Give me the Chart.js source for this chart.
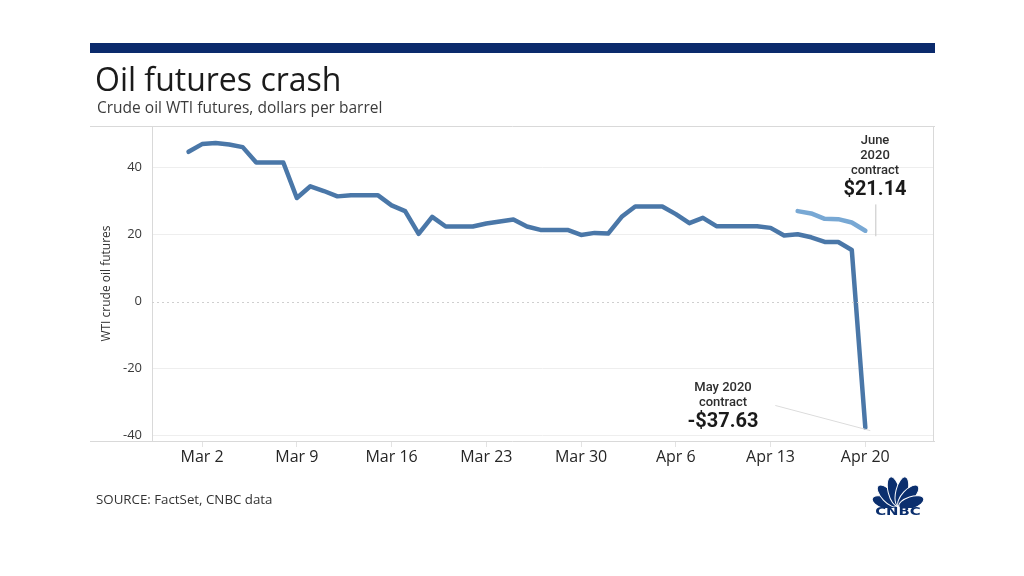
<!DOCTYPE html>
<html>
<head>
<meta charset="utf-8">
<script src="https://cdn.jsdelivr.net/npm/chart.js@4"></script>
<style>
  body { margin: 0; width: 1024px; height: 576px; position: relative; background: #fff; font-family: "Open Sans", Roboto, sans-serif; overflow: hidden; }
  .abs { position: absolute; white-space: nowrap; }
  #bar { left: 90px; top: 43px; width: 845px; height: 10px; background: #0b2a6c; }
  #title { left: 95px; top: 57px; font-size: 32px; color: #1b1b1b; }
  #subtitle { left: 97px; top: 96px; font-size: 15.5px; color: #3c3c3c; }
  #source { left: 96px; top: 490px; font-size: 13.3px; color: #333; }
  .note { text-align: center; color: #2e2e2e; font-family: Roboto, sans-serif; font-weight: 500; font-size: 13px; line-height: 15px; }
  .note b { display: block; font-size: 20px; line-height: 22px; font-weight: 700; color: #1a1a1a; }
  #june { left: 835px; top: 132px; width: 80px; }
  #may { left: 673px; top: 379px; width: 100px; }
  #logo { left: 868px; top: 476px; width: 60px; }
  #logoText { left: 868px; top: 505px; width: 60px; text-align: center; font-family: "DejaVu Sans", sans-serif; font-size: 11px; font-weight: 700; color: #0b2f6e; transform: scaleX(1.35); }
  canvas { position: absolute; left: 0; top: 0; }
</style>
</head>
<body>
<canvas id="oilChart" width="1024" height="576"></canvas>
<div class="abs" id="bar"></div>
<div class="abs" id="title">Oil futures crash</div>
<div class="abs" id="subtitle">Crude oil WTI futures, dollars per barrel</div>
<div class="abs note" id="june">June<br>2020<br>contract<b>$21.14</b></div>
<div class="abs note" id="may">May 2020<br>contract<b>-$37.63</b></div>
<div class="abs" id="source">SOURCE: FactSet, CNBC data</div>
<svg class="abs" id="logo" width="60" height="32" viewBox="0 0 60 32">
  <g fill="#0b2f6e" stroke="#fff" stroke-width="1" transform="translate(30,31)">
    <ellipse cx="0" cy="-14" rx="6" ry="13" transform="rotate(-72)"/>
    <ellipse cx="0" cy="-15" rx="6" ry="14" transform="rotate(-43)"/>
    <ellipse cx="0" cy="-16" rx="6" ry="15" transform="rotate(-14)"/>
    <ellipse cx="0" cy="-16" rx="6" ry="15" transform="rotate(14)"/>
    <ellipse cx="0" cy="-15" rx="6" ry="14" transform="rotate(43)"/>
    <ellipse cx="0" cy="-14" rx="6" ry="13" transform="rotate(72)"/>
  </g>
</svg>
<div class="abs" id="logoText">CNBC</div>

<script>
// daily points, weekends carry the Friday value
const dates = [
  'Mar 1', 'Mar 2', 'Mar 3', 'Mar 4', 'Mar 5', 'Mar 6', 'Mar 7', 'Mar 8', 'Mar 9', 'Mar 10',
  'Mar 11', 'Mar 12', 'Mar 13', 'Mar 14', 'Mar 15', 'Mar 16', 'Mar 17', 'Mar 18', 'Mar 19', 'Mar 20',
  'Mar 21', 'Mar 22', 'Mar 23', 'Mar 24', 'Mar 25', 'Mar 26', 'Mar 27', 'Mar 28', 'Mar 29', 'Mar 30',
  'Mar 31', 'Apr 1', 'Apr 2', 'Apr 3', 'Apr 4', 'Apr 5', 'Apr 6', 'Apr 7', 'Apr 8', 'Apr 9',
  'Apr 10', 'Apr 11', 'Apr 12', 'Apr 13', 'Apr 14', 'Apr 15', 'Apr 16', 'Apr 17', 'Apr 18', 'Apr 19',
  'Apr 20'
];
const mayContract = [
  44.7, 47.0, 47.3, 46.9, 46.1, 41.5, 41.5, 41.5, 30.9, 34.4,
  33.0, 31.4, 31.7, 31.7, 31.7, 28.7, 27.0, 20.2, 25.3, 22.4,
  22.4, 22.4, 23.3, 23.9, 24.5, 22.4, 21.4, 21.4, 21.4, 19.9,
  20.5, 20.3, 25.3, 28.4, 28.4, 28.4, 26.1, 23.4, 25.0, 22.5,
  22.5, 22.5, 22.5, 22.0, 19.7, 20.1, 19.2, 17.8, 17.8, 15.4,
  -37.63
];
const juneDates = ['Apr 15', 'Apr 16', 'Apr 17', 'Apr 18', 'Apr 19', 'Apr 20'];
const juneContract = [27.0, 26.3, 24.7, 24.6, 23.6, 21.14];
const xTickLabels = ['Mar 2', 'Mar 9', 'Mar 16', 'Mar 23', 'Mar 30', 'Apr 6', 'Apr 13', 'Apr 20'];
const yTickValues = [-40, -20, 0, 20, 40];

document.addEventListener('DOMContentLoaded', () => {

    // frame, dotted zero line and the two label pointers
    const framePlugin = {
        id: 'frame',
        afterDraw(chart) {
            const { ctx, chartArea: a, scales: { x, y } } = chart;
            ctx.save();
            ctx.strokeStyle = '#d9d9d9';
            ctx.lineWidth = 1;
            ctx.beginPath();
            ctx.moveTo(90, a.top + 0.5); ctx.lineTo(935, a.top + 0.5);
            ctx.moveTo(90, a.bottom + 0.5); ctx.lineTo(935, a.bottom + 0.5);
            ctx.moveTo(a.left + 0.5, a.top); ctx.lineTo(a.left + 0.5, a.bottom);
            ctx.moveTo(a.right + 0.5, a.top); ctx.lineTo(a.right + 0.5, a.bottom);
            ctx.stroke();

            ctx.strokeStyle = '#cfcfcf';
            ctx.setLineDash([2, 3]);
            ctx.beginPath();
            const y0 = Math.round(y.getPixelForValue(0)) + 0.5;
            ctx.moveTo(a.left, y0); ctx.lineTo(a.right, y0);
            ctx.stroke();
            ctx.setLineDash([]);

            const lastX = x.getPixelForValue(dates.length - 1);
            ctx.strokeStyle = '#c4c4c4';
            ctx.beginPath();
            ctx.moveTo(lastX + 10.5, y.getPixelForValue(29));
            ctx.lineTo(lastX + 10.5, y.getPixelForValue(19.5));
            ctx.stroke();

            ctx.strokeStyle = '#dcdcdc';
            ctx.beginPath();
            ctx.moveTo(lastX - 90, y.getPixelForValue(-31));
            ctx.lineTo(lastX + 5, y.getPixelForValue(-38.5));
            ctx.stroke();
            ctx.restore();
        }
    };

    const ctx = document.getElementById('oilChart').getContext('2d');
    new Chart(ctx, {
        type: 'line',
        data: {
            datasets: [{
                label: 'May 2020 contract',
                data: mayContract.map((v, i) => ({ x: i, y: v })),
                borderColor: '#4a77a8',
                borderWidth: 4.5,
                borderJoinStyle: 'round',
                borderCapStyle: 'round',
                tension: 0,
                pointRadius: 0
            }, {
                label: 'June 2020 contract',
                data: juneDates.map((d, i) => ({ x: dates.indexOf(d), y: juneContract[i] })),
                borderColor: '#78a8d4',
                borderWidth: 4.5,
                borderJoinStyle: 'round',
                borderCapStyle: 'round',
                tension: 0,
                pointRadius: 0
            }]
        },
        options: {
            responsive: false,
            animation: false,
            layout: { padding: { left: 90, right: 91, top: 126, bottom: 100 } },
            plugins: { legend: { display: false }, tooltip: { enabled: false } },
            scales: {
                x: {
                    type: 'linear',
                    min: -2.7,
                    max: 55.0,
                    afterFit: s => { s.height = 35; },
                    afterBuildTicks: s => { s.ticks = xTickLabels.map(l => ({ value: dates.indexOf(l) })); },
                    grid: { drawOnChartArea: false, drawTicks: true, tickLength: 6, tickColor: '#e3e3e3' },
                    border: { display: false },
                    ticks: {
                        autoSkip: false, maxRotation: 0, padding: 1,
                        color: '#262626', font: { family: 'Open Sans', size: 16 },
                        callback: v => dates[v]
                    }
                },
                y: {
                    min: -41.6,
                    max: 52.4,
                    afterFit: s => { s.width = 62; },
                    afterBuildTicks: s => { s.ticks = yTickValues.map(v => ({ value: v })); },
                    grid: {
                        drawTicks: false,
                        color: c => c.tick && c.tick.value === 0 ? 'rgba(0,0,0,0)' : '#eeeeee'
                    },
                    border: { display: false },
                    ticks: { padding: 10, color: '#3a3a3a', font: { family: 'Open Sans', size: 13 } },
                    title: {
                        display: true,
                        text: 'WTI crude oil futures',
                        color: '#333',
                        font: { family: 'Open Sans', size: 12 },
                        padding: { top: 9, bottom: 0 }
                    }
                }
            }
        },
        plugins: [framePlugin]
    });
});
</script>
</body>
</html>
